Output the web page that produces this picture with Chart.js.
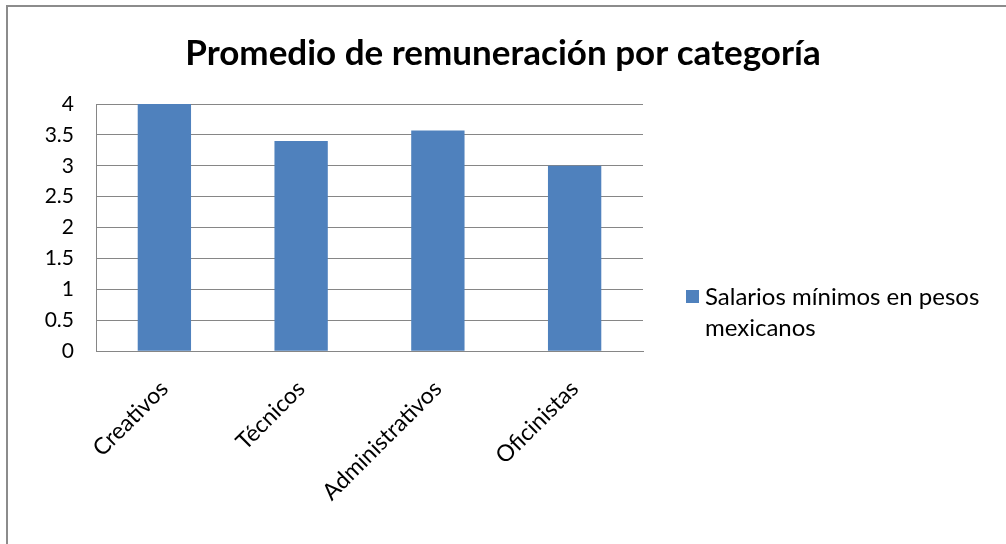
<!DOCTYPE html>
<html><head><meta charset="utf-8">
<script src="https://cdn.jsdelivr.net/npm/chart.js@4.4.1/dist/chart.umd.min.js"></script>
<style>
html,body{margin:0;padding:0;background:#fff;}
#wrap{position:relative;width:1006px;height:544px;overflow:hidden;}
#frame{position:absolute;left:6px;top:5px;width:1100px;height:600px;border:2px solid #8c8c8c;box-sizing:border-box;pointer-events:none;}
canvas{position:absolute;left:0;top:0;}
</style></head>
<body><div id="wrap"><canvas id="c" width="1006" height="544"></canvas><div id="frame"></div></div>
<script>
const categories = ['Creativos', 'Técnicos', 'Administrativos', 'Oficinistas'];
const seriesName = ['Salarios mínimos en pesos', 'mexicanos'];
const salarios = [4.0, 3.4, 3.57, 3.0];
const yTicks = [0, 0.5, 1, 1.5, 2, 2.5, 3, 3.5, 4];
const titleText = 'Promedio de remuneración por categoría';
const barColor = '#4F81BD';
const FONT = 'Lato, "Open Sans", sans-serif';

const legendPlugin = {
  id: 'sideLegend',
  afterDraw(chart) {
    const ctx = chart.ctx;
    const ds = chart.data.datasets[0];
    const x = chart.chartArea.right + 43;
    const y = 290;
    ctx.save();
    ctx.fillStyle = ds.backgroundColor;
    ctx.fillRect(x, y, 13, 13);
    ctx.fillStyle = '#000';
    ctx.font = '24px ' + FONT;
    ctx.textBaseline = 'middle';
    ds.label.forEach((t, i) => ctx.fillText(t, x + 19, y + 7 + i * 31));
    ctx.restore();
  }
};

new Chart(document.getElementById('c'), {
  type: 'bar',
  data: {
    labels: categories,
    datasets: [{
      label: seriesName,
      data: salarios,
      backgroundColor: barColor,
      borderWidth: 0,
      barPercentage: 0.39,
      categoryPercentage: 1.0
    }]
  },
  options: {
    responsive: false,
    animation: false,
    layout: { padding: { left: 0, right: 0, top: 0, bottom: 14 } },
    plugins: {
      legend: { display: false },
      tooltip: { enabled: false },
      title: {
        display: true,
        text: titleText,
        color: '#000',
        font: { family: FONT, size: 35, weight: 'bold' },
        padding: { top: 33, bottom: 29 }
      }
    },
    scales: {
      x: {
        grid: { display: false, drawTicks: false },
        border: { display: true, color: '#868686', width: 1 },
        ticks: {
          color: '#000',
          font: { family: FONT, size: 23 },
          minRotation: 45, maxRotation: 45,
          padding: 24
        }
      },
      y: {
        min: 0, max: 4,
        afterBuildTicks: (axis) => { axis.ticks = yTicks.map(v => ({ value: v })); },
        afterFit: (axis) => { axis.width = 96; },
        grid: { color: '#868686', lineWidth: 1, drawTicks: false },
        border: { display: true, color: '#868686', width: 1 },
        ticks: {
          color: '#000',
          font: { family: FONT, size: 21 },
          padding: 22,
          callback: (v) => String(v)
        }
      },
      legendSpace: {
        type: 'linear',
        position: 'right',
        display: true,
        afterFit: (axis) => { axis.width = 363; },
        grid: { display: false, drawTicks: false },
        border: { display: false },
        ticks: { display: false }
      }
    }
  },
  plugins: [legendPlugin]
});
</script>
</body></html>
